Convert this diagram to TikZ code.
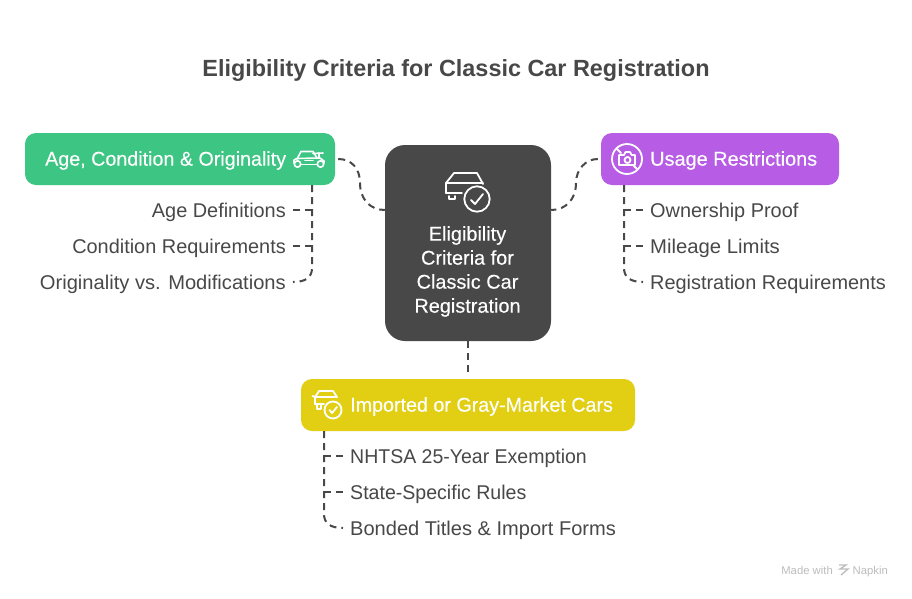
\documentclass[tikz,border=0pt]{standalone}
\usepackage{graphicx}
\usepackage{fontspec}
\setmainfont{Liberation Sans}
\usetikzlibrary{calc}
\definecolor{ink}{HTML}{484848}
\definecolor{greenbox}{HTML}{3CC583}
\definecolor{purplebox}{HTML}{B75CE5}
\definecolor{yellowbox}{HTML}{E2CF14}
\definecolor{wm}{HTML}{BDBDBD}
\newfontfamily\medfont[FakeBold=0.2]{Liberation Sans}
\newcommand{\sx}[2]{\scalebox{#1}[1]{#2}}
\tikzset{
 x=1pt,y=-1pt,
 box/.style={rounded corners=11pt,minimum height=52pt,inner sep=0pt},
 boxtext/.style={text=white,inner sep=0pt,anchor=west,font=\medfont\fontsize{19.9}{24}\selectfont},
 lab/.style={text=ink,inner sep=0pt,font=\fontsize{19.9}{24}\selectfont},
 conn/.style={draw=ink,line width=2pt,dash pattern=on 7pt off 5pt},
 ico/.style={draw=white,line width=1.8pt,line join=round,line cap=round,fill=none},
 mark text/.style={text=wm,inner sep=0pt,anchor=base east,font=\fontsize{11.3}{13}\selectfont},
}
\begin{document}
\begin{tikzpicture}
\useasboundingbox (0,0) rectangle (912,598);
\fill[white] (0,0) rectangle (912,598);
\node[text=ink,inner sep=0pt,font=\bfseries\fontsize{23.4}{28}\selectfont] (title) at (456,70.5) {Eligibility Criteria for Classic Car Registration};

\node[box,fill=greenbox,minimum width=310pt] (age) at (180,159) {};
\node[box,fill=purplebox,minimum width=238pt] (usage) at (720,159) {};
\node[box,fill=yellowbox,minimum width=334pt] (imp) at (468,405) {};
\node[fill=ink,rounded corners=20pt,minimum width=166pt,minimum height=196pt,inner sep=0pt] (core) at (468,243) {};

\node[boxtext] (aget) at (45,160.5) {\sx{.99}{Age, Condition \& Originality}};
\node[boxtext] (uset) at (650,160.5) {Usage Restrictions};
\node[boxtext] (impt) at (350,406.5) {\sx{.99}{Imported or Gray-Market Cars}};
\node[text=white,align=center,inner sep=0pt,font=\medfont\fontsize{19.9}{24}\selectfont] (coret) at (467.5,271.5) {Eligibility\\Criteria for\\Classic Car\\Registration};

\node[lab,anchor=east] (a1) at (286,212.5) {Age Definitions};
\node[lab,anchor=east] (a2) at (286,248.5) {Condition Requirements};
\node[lab,anchor=east] (a3) at (286,284.5) {\sx{1.012}{Originality vs. Modifications}};
\node[lab,anchor=west] (u1) at (650,212.5) {Ownership Proof};
\node[lab,anchor=west] (u2) at (650,248.5) {\sx{1.02}{Mileage Limits}};
\node[lab,anchor=west] (u3) at (650,284.5) {Registration Requirements};
\node[lab,anchor=west] (i1) at (350,458.5) {\sx{.98}{NHTSA 25-Year Exemption}};
\node[lab,anchor=west] (i2) at (350,494.5) {\sx{.983}{State-Specific Rules}};
\node[lab,anchor=west] (i3) at (350,530.5) {\sx{1.008}{Bonded Titles \& Import Forms}};

% connectors to the core
\draw[conn] ($(age.east)+(3,0)$) .. controls (352,159) and (360,169) .. (360,183) .. controls (360,199) and (370,210) .. (core.west |- 0,210);
\draw[conn] ($(usage.west)+(-3,0)$) .. controls (586,159) and (576,169) .. (576,183) .. controls (576,199) and (566,210) .. (core.east |- 0,210);
\draw[conn,shorten >=5pt] (core.south) -- (imp.north);

% trunks and branches
\draw[conn] (age.south -| 312,0) -- (312,268) .. controls (312,277) and (306,282) .. (293,282);
\draw[conn] (312,210) -- (293,210);
\draw[conn] (312,246) -- (293,246);
\draw[conn] (usage.south -| 624,0) -- (624,268) .. controls (624,277) and (630,282) .. (643,282);
\draw[conn] (624,210) -- (643,210);
\draw[conn] (624,246) -- (643,246);
\draw[conn] (imp.south -| 324,0) -- (324,514) .. controls (324,523) and (330,528) .. (343,528);
\draw[conn] (324,456) -- (343,456);
\draw[conn] (324,492) -- (343,492);

% roadster icon
\begin{scope}[ico,line width=1.6pt]
\draw (297,159) -- (301,151.5) -- (313,151.5) -- (317,158);
\draw (313,153.5) -- (323,153);
\draw (319,153) -- (319,158);
\draw (294,163) -- (294,160) -- (297,158.5) -- (320,158) -- (324,161) -- (324,163);
\draw (301.5,164.5) -- (316.5,164.5);
\draw (305,160.5) -- (313,160.5);
\draw (297.5,164) circle[radius=3.2pt];
\draw (320.5,164) circle[radius=3.2pt];
\end{scope}

% core icon
\begin{scope}[ico]
\draw (446,193) -- (446,183) -- (454,173) -- (477,173) -- (483,184);
\draw (446,183) -- (483,183);
\draw (446,193) -- (462,193);
\draw (449,196) -- (449,199) -- (455,199) -- (455,196);
\draw (477,199) circle[radius=12.7pt];
\draw (471,200) -- (475,204) -- (483,194);
\end{scope}

% usage icon
\begin{scope}[ico]
\draw (627,159) circle[radius=15pt];
\draw (619,155) -- (624,155) -- (625.5,152) -- (630,152) -- (631.5,155) -- (635,155) -- (635,165) -- (619,165) -- cycle;
\draw (627.5,160) circle[radius=3pt];
\draw (617,149) -- (621,153);
\draw (633,165) -- (637,169);
\end{scope}

% imported car icon
\begin{scope}[ico]
\draw (315,404) -- (315,397) -- (319,391) -- (333,391) -- (337,397);
\draw (315,397) -- (337,397);
\draw (312.5,396) -- (315,397);
\draw (315,404) -- (324,404);
\draw (317,404) -- (317,409) -- (321,409) -- (321,405);
\draw (333,410) circle[radius=8.5pt];
\draw (329.5,410) -- (332,413) -- (337,407);
\end{scope}

% watermark
\node[mark text] (made) at (833,574) {Made with};
\node[mark text] (nap) at (888,574) {Napkin};
\draw[wm,line width=1.3pt] (839,565) -- (846,565) -- (840,569) -- (848,569) -- (841,575);
\end{tikzpicture}
\end{document}
